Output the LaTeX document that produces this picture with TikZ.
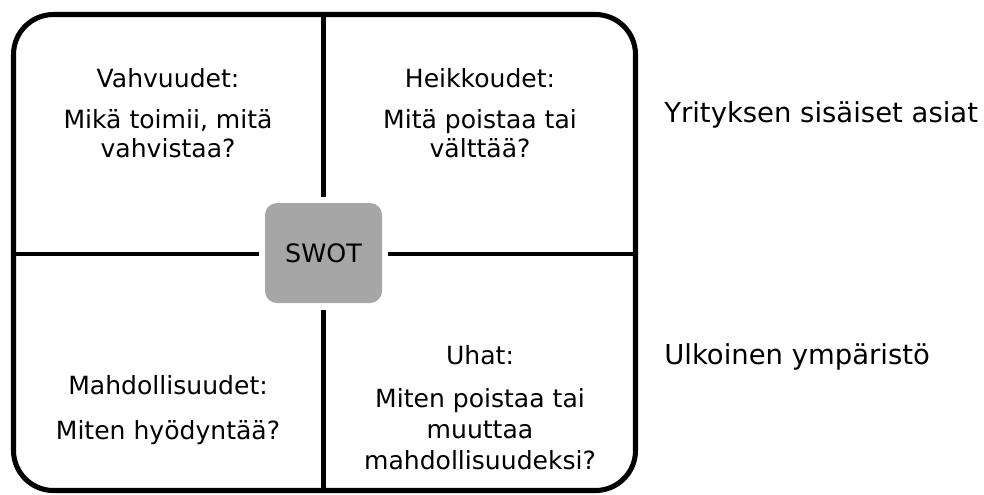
\documentclass[tikz,border=0pt]{standalone}
\usepackage{fontspec}
\setmainfont{DejaVu Sans}
\definecolor{boxgray}{HTML}{A6A6A6}
\tikzset{
  frame/.style={line width=3.8pt, rounded corners=30pt},
  divider/.style={line width=3.4pt},
  core/.style={fill=boxgray, rounded corners=9pt, minimum width=87.75pt, minimum height=75pt, inner sep=0pt, font=\fontsize{19}{22}\selectfont},
  txt/.style={anchor=base, inner sep=0pt, font=\fontsize{18.8}{22}\selectfont},
  side/.style={anchor=base west, inner sep=0pt, font=\fontsize{20.6}{24}\selectfont}
}
\begin{document}
\begin{tikzpicture}[x=0.75pt, y=-0.75pt]
  \useasboundingbox (0,0) rectangle (984,494);
  % outer frame
  \draw[frame] (13.5,14.5) rectangle (635.5,490.5);
  % centre box
  \node[core] (swot) at (323.5,253) {SWOT};
  % frame anchors for the dividers
  \coordinate (top) at (323.5,14.5);
  \coordinate (bot) at (323.5,490.5);
  \coordinate (lft) at (13.5,254);
  \coordinate (rgt) at (635.5,254);
  \draw[divider] (top) -- ([yshift=4.5pt]swot.north);
  \draw[divider] ([yshift=-5pt]swot.south) -- (bot);
  \draw[divider] (lft) -- ([xshift=-4pt]swot.west |- lft);
  \draw[divider] ([xshift=4pt]swot.east |- rgt) -- (rgt);
  % strengths
  \node[txt] (s1) at (168,87) {Vahvuudet:};
  \node[txt] (s2) at (168,128) {Mikä toimii, mitä};
  \node[txt] (s3) at (168,157) {vahvistaa?};
  % weaknesses
  \node[txt] (w1) at (480,87) {Heikkoudet:};
  \node[txt] (w2) at (480,128) {Mitä poistaa tai};
  \node[txt] (w3) at (480,157) {välttää?};
  % opportunities
  \node[txt] (o1) at (168,394) {Mahdollisuudet:};
  \node[txt] (o2) at (168,439) {Miten hyödyntää?};
  % threats
  \node[txt] (t1) at (480,364) {Uhat:};
  \node[txt] (t2) at (480,407) {Miten poistaa tai};
  \node[txt] (t3) at (480,438) {muuttaa};
  \node[txt] (t4) at (480,469) {mahdollisuudeksi?};
  % row captions
  \node[side] (internal) at (664,122) {Yrityksen sisäiset asiat};
  \node[side] (external) at (664,364) {Ulkoinen ympäristö};
\end{tikzpicture}
\end{document}
